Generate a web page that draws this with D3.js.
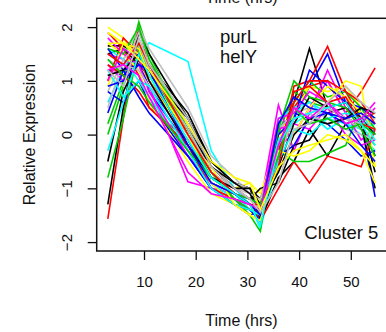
<!DOCTYPE html>
<html>
<head>
<meta charset="utf-8">
<script src="https://cdn.jsdelivr.net/npm/d3@7"></script>
<style>
  html, body { margin: 0; padding: 0; background: #fff; }
  svg { display: block; }
  text { font-family: "Liberation Sans", Arial, Helvetica, sans-serif; fill: #111; }
</style>
</head>
<body>
<script>
// Sampling times (hours)
const times = [3, 6, 9, 11, 18.5, 23, 27.5, 30.5, 32.5, 36, 39, 42, 45.5, 49, 52, 54.7];

// Axis ticks
const xTicks = [10, 20, 30, 40, 50];
const yTicks = [-2, -1, 0, 1, 2];

// Line colours, cycled over the profiles (R default palette)
const palette = ["#000000", "#FF0000", "#00CD00", "#0000FF", "#00FFFF", "#FF00FF", "#FFFF00", "#BEBEBE"];

// Gene labels and cluster name
const geneLabels = ["purL", "helY"];
const clusterLabel = "Cluster 5";

// Relative expression profiles of the genes in the cluster, one row per gene
const profiles = [
  [1.65, 1.65, 1.5, 1.3, 0.4, -0.5, -0.9, -1.0, -1.2, -0.3, 0.6, 1.6, 0.5, 0.3, 0.2, -0.4],
  [-1.57, 0.3, 2.05, 1.2, 0.2, -0.6, -1.0, -1.2, -1.4, -0.2, 0.5, 0.9, 1.0, 0.4, 0.8, 1.24],
  [0.2, 1.0, 2.1, 1.5, 0.0, -0.8, -1.1, -1.3, -1.6, 0.0, 0.8, 0.6, 0.5, 0.3, 0.1, -0.2],
  [1.2, 1.1, 1.4, 0.8, -0.2, -0.9, -1.1, -1.3, -1.5, -0.4, 0.3, 0.9, 1.5, 0.6, 0.2, -1.16],
  [1.1, 1.3, 1.5, 1.71, 1.36, -0.3, -1.0, -1.3, -1.75, -0.5, 0.4, 0.6, 0.3, 0.2, 0.0, -0.3],
  [1.5, 1.4, 1.2, 0.9, -0.88, -1.0, -1.1, -1.2, -1.3, 0.55, -0.3, 0.4, 1.2, 0.5, 0.3, 0.2],
  [2.0, 1.8, 1.3, 1.0, 0.1, -0.7, -1.0, -0.9, -1.1, -0.1, 0.6, 0.9, 0.8, 0.9, 0.5, 0.0],
  [0.8, 1.4, 2.0, 1.6, 0.5, -0.4, -0.8, -1.1, -1.3, -0.3, 0.5, 0.6, 0.4, 0.3, 0.2, 0.0],
  [-1.3, 0.5, 1.9, 1.5, 0.3, -0.5, -0.9, -1.0, -1.6, -0.8, -0.5, 0.1, -0.4, 0.2, 0.3, -0.7],
  [1.9, 1.6, 1.1, 0.5, -0.1, -0.8, -1.1, -1.3, -1.5, -0.5, 0.9, 1.0, 1.64, 0.8, 0.3, 0.4],
  [0.0, 0.9, 1.7, 1.3, 0.1, -0.7, -1.2, -1.5, -1.8, 0.2, 0.6, 1.0, 0.7, 0.8, 0.5, 0.3],
  [0.8, 0.6, 1.0, 0.6, -0.4, -1.0, -1.2, -1.4, -1.4, 0.1, 0.4, 0.3, 0.2, -0.1, -0.4, -0.3],
  [0.6, 1.2, 1.4, 1.1, -0.2, -0.8, -1.1, -1.4, -1.6, 0.3, 0.5, 0.6, 0.4, 0.2, 0.1, 0.2],
  [1.3, 1.0, 1.6, 1.2, -0.3, -1.0, -1.2, -1.4, -1.5, -0.2, 0.0, 0.5, 1.0, 0.4, -0.1, 0.1],
  [1.7, 1.5, 1.2, 0.6, -0.5, -1.1, -1.3, -1.4, -1.3, -0.4, 0.4, 0.9, 0.6, 1.0, 0.9, -0.6],
  [1.4, 1.2, 1.9, 1.4, 0.2, -0.6, -0.9, -1.0, -1.3, 0.1, 0.4, 0.5, 0.3, 0.1, 0.0, -0.1],
  [1.5, 1.6, 1.3, 1.1, 0.3, -0.6, -1.0, -1.2, -1.0, -0.9, -0.2, -0.1, 0.4, 0.5, 0.2, -1.0],
  [1.0, 1.8, 1.5, 1.0, 0.0, -0.7, -1.1, -1.3, -1.6, -1.0, -0.5, -0.9, -0.4, -0.5, -0.6, 0.1],
  [-0.8, 0.3, 1.6, 1.2, 0.0, -0.8, -1.1, -1.3, -1.4, -0.3, -0.5, -0.5, -0.35, -0.2, 0.5, 0.1],
  [0.4, 1.2, 1.3, 0.9, -0.1, -0.9, -1.3, -1.5, -1.4, 0.0, 0.3, 1.2, 0.9, 0.6, 0.5, 0.3],
  [1.6, 1.4, 1.0, 0.7, -0.3, -0.9, -1.2, -1.3, -1.4, -0.1, 0.2, 0.4, 0.1, 0.3, 0.4, 0.0],
  [1.8, 1.5, 1.3, 0.8, -0.4, -0.9, -1.1, -1.2, -1.3, 0.1, 0.2, 0.1, 0.5, 0.0, -0.2, -0.1],
  [0.9, 1.7, 1.6, 1.1, 0.0, -0.9, -1.3, -1.5, -1.2, -0.7, 0.0, 0.5, 0.9, 0.7, 0.4, 0.2],
  [1.1, 1.3, 1.2, 0.9, 0.0, -0.7, -1.0, -1.1, -1.2, -0.2, 0.3, 0.4, 0.2, 0.3, 0.1, 0.3],
  [-0.5, 0.8, 1.4, 1.2, 0.1, -0.6, -0.9, -1.1, -1.5, -0.6, 0.2, 0.7, 0.5, 0.6, 0.3, 0.0],
  [1.3, 1.1, 0.8, 0.5, -0.2, -1.0, -1.2, -1.3, -1.5, -0.3, 0.6, 1.0, 1.0, 0.8, 0.6, 0.2],
  [1.6, 1.5, 2.0, 1.4, 0.1, -0.7, -1.2, -1.4, -1.5, 0.1, 1.0, 0.7, 0.6, 0.5, 0.1, -0.4],
  [1.6, 1.2, 0.7, 0.4, -0.4, -1.0, -1.3, -1.4, -1.6, -0.4, -0.2, 0.3, 0.4, 0.2, -0.2, -0.5],
  [1.2, 0.7, 1.0, 0.9, -0.3, -1.0, -1.3, -1.4, -1.5, -0.5, 0.1, 0.0, 0.3, 0.4, 0.3, -0.1],
  [1.0, 1.6, 1.4, 1.0, -0.2, -0.8, -1.0, -1.2, -1.4, 0.3, 0.4, 0.8, 0.6, 0.3, 0.2, 0.5],
  [1.9, 1.7, 1.5, 1.0, -0.1, -0.6, -1.3, -1.5, -1.6, -0.3, -0.4, -0.3, 0.0, -0.1, -0.3, -0.6],
  [0.5, 1.4, 1.7, 1.2, 0.1, -0.7, -1.0, -1.2, -1.4, -0.4, 0.3, 0.4, 0.5, 0.3, 0.2, 0.1],
  [1.1, 1.2, 1.5, 1.0, -0.2, -0.8, -1.0, -1.0, -1.3, -0.7, 0.0, 0.3, 0.2, 0.3, 0.5, 0.4],
  [1.5, 1.3, 1.7, 1.3, 0.0, -0.7, -1.1, -1.3, -1.3, -0.6, 0.8, 0.9, 0.6, 0.7, 0.2, 0.1],
  [1.4, 1.1, 0.9, 0.6, -0.3, -0.8, -1.1, -1.2, -1.3, -0.4, 0.5, 0.2, 0.3, 0.1, 0.2, 0.0],
  [0.9, 1.0, 1.3, 1.2, -0.2, -0.9, -1.1, -1.3, -1.5, 0.2, 0.7, 0.5, 0.4, 0.3, 0.4, 0.2],
  [-0.3, 0.6, 1.5, 1.1, -0.1, -0.8, -1.1, -1.3, -1.7, -0.2, 0.3, 0.4, 0.5, 0.6, 0.2, -0.2],
  [1.2, 1.3, 1.1, 0.7, -0.7, -1.1, -1.2, -1.3, -1.4, -0.2, 0.5, 0.3, 0.6, 0.2, 0.3, 0.6],
  [1.7, 1.7, 1.4, 1.2, 0.2, -0.5, -0.8, -0.9, -1.4, -0.6, -0.3, -0.2, -0.1, 0.0, -0.3, -0.9],
  [1.2, 0.9, 1.8, 1.3, 0.3, -0.6, -1.0, -1.2, -1.45, -0.9, 0.1, 0.2, 0.6, 0.9, 0.6, 0.4]
];

const W = 386, H = 332;
const box = { left: 96.7, right: 387, top: 18.3, bottom: 251 };

const x = d3.scaleLinear().domain([0.85, 57.0]).range([box.left, box.right]);
const y = d3.scaleLinear().domain([-2.166, 2.164]).range([box.bottom, box.top]);

const svg = d3.select("body").append("svg")
  .attr("width", W).attr("height", H);

// Profiles
const line = d3.line().x((d, i) => x(times[i])).y(d => y(d));
svg.append("g")
  .selectAll("path")
  .data(profiles)
  .join("path")
  .attr("d", line)
  .attr("fill", "none")
  .attr("stroke", (d, i) => palette[i % palette.length])
  .attr("stroke-width", 1.6)
  .attr("stroke-linejoin", "miter");

// Plot frame
svg.append("rect")
  .attr("x", box.left).attr("y", box.top)
  .attr("width", box.right - box.left).attr("height", box.bottom - box.top)
  .attr("fill", "none").attr("stroke", "#111").attr("stroke-width", 1.5);

// X axis
const xAxis = svg.append("g")
  .attr("transform", `translate(0,${box.bottom})`)
  .call(d3.axisBottom(x).tickValues(xTicks).tickSize(9).tickSizeOuter(0).tickPadding(23));
xAxis.select(".domain").remove();
xAxis.selectAll(".tick line").attr("stroke", "#111").attr("stroke-width", 1.3);
xAxis.selectAll(".tick text")
  .attr("font-size", 15).attr("fill", "#111")
  .attr("dy", 0).attr("y", 35.5)
  .style("font-family", "Liberation Sans, Arial, sans-serif");

// Y axis with labels running along the axis
const yAxis = svg.append("g")
  .attr("transform", `translate(${box.left},0)`)
  .call(d3.axisLeft(y).tickValues(yTicks).tickSize(9).tickSizeOuter(0).tickFormat(d => d < 0 ? "\u2212" + Math.abs(d) : String(d)));
yAxis.select(".domain").remove();
yAxis.selectAll(".tick line").attr("stroke", "#111").attr("stroke-width", 1.3);
yAxis.selectAll(".tick text")
  .attr("font-size", 15).attr("fill", "#111")
  .attr("x", null).attr("dy", null)
  .attr("text-anchor", "middle")
  .attr("transform", "translate(-24.5,0) rotate(-90)")
  .style("font-family", "Liberation Sans, Arial, sans-serif");

// Axis titles
svg.append("text")
  .attr("x", 241.5).attr("y", 326)
  .attr("text-anchor", "middle").attr("font-size", 16)
  .text("Time (hrs)");
svg.append("text")
  .attr("transform", `translate(34.5,${(box.top + box.bottom) / 2}) rotate(-90)`)
  .attr("text-anchor", "middle").attr("font-size", 16)
  .text("Relative Expression");

// Title of the panel above, partly in view
svg.append("text")
  .attr("x", 241.5).attr("y", 2.5)
  .attr("text-anchor", "middle").attr("font-size", 16)
  .text("Time (hrs)");

// Gene names
svg.append("g").selectAll("text")
  .data(geneLabels)
  .join("text")
  .attr("x", 220).attr("y", (d, i) => 42.7 + i * 20.6)
  .attr("font-size", 18.5)
  .text(d => d);

// Cluster name
svg.append("text")
  .attr("x", 378.3).attr("y", 239.3)
  .attr("text-anchor", "end").attr("font-size", 18.5)
  .text(clusterLabel);
</script>
</body>
</html>
